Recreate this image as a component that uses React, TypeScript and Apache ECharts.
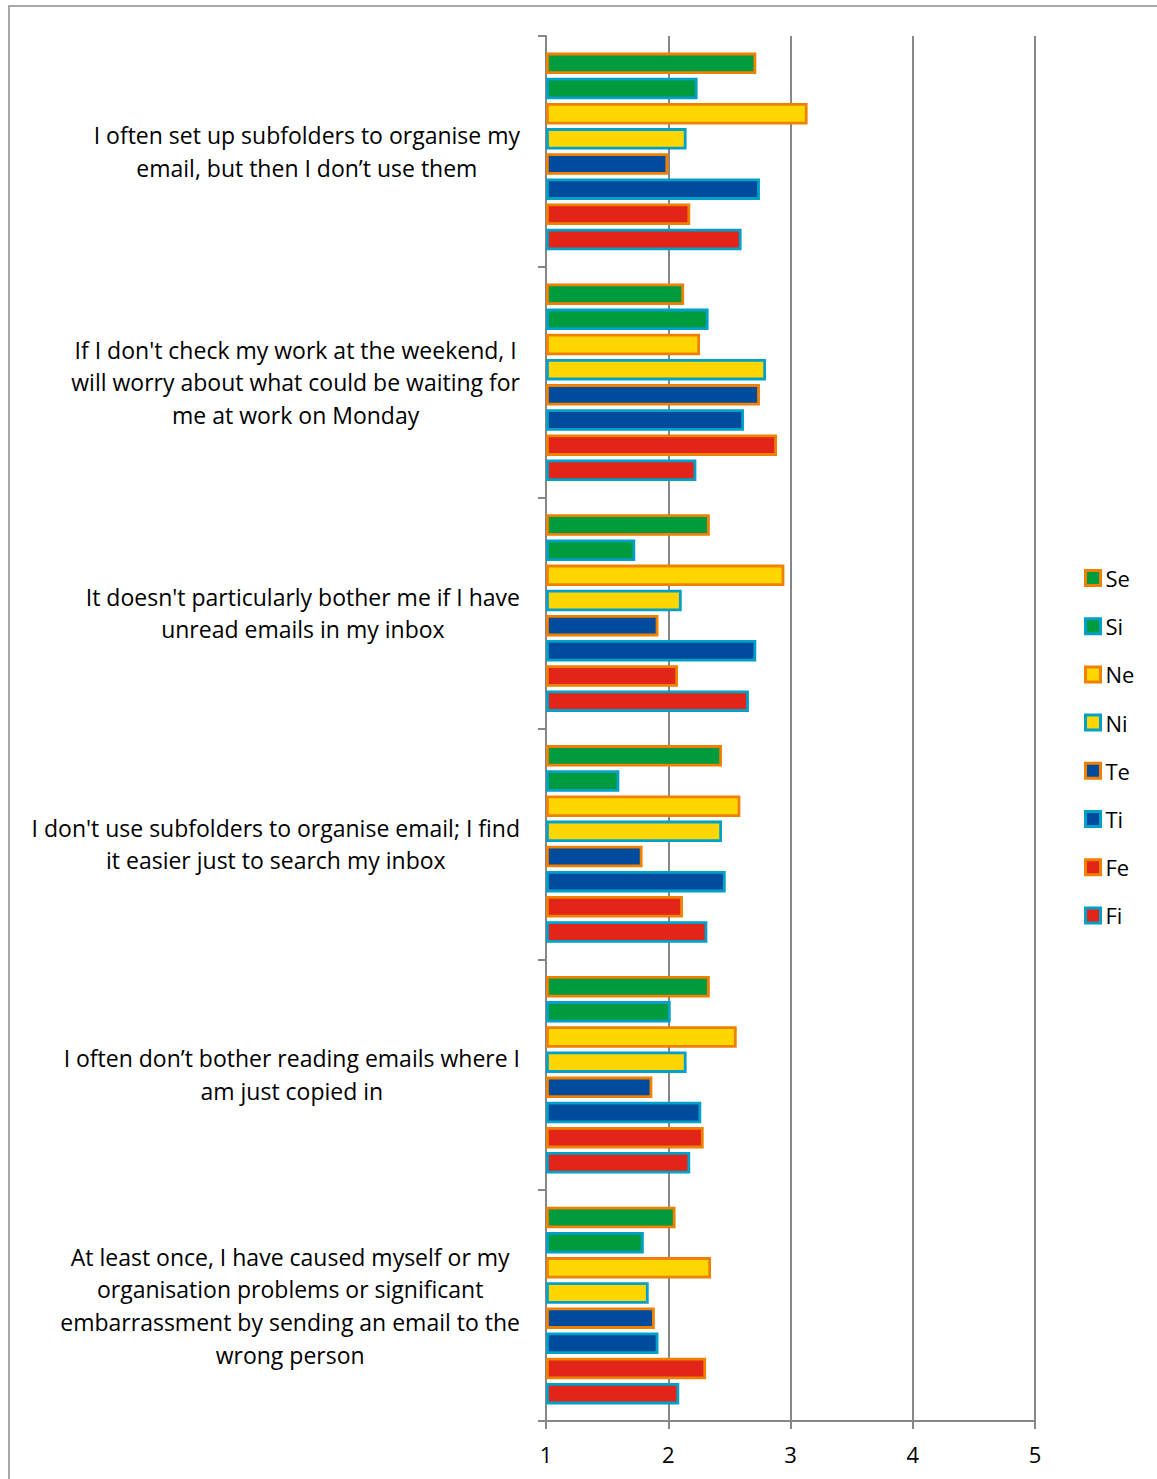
import React, { useEffect, useRef } from "react";
import * as echarts from "echarts";

const categories = [
  "I often set up subfolders to organise my\nemail, but then I don’t use them",
  "If I don't check my work at the weekend, I\nwill worry about what could be waiting for\nme at work on Monday",
  "It doesn't particularly bother me if I have\nunread emails in my inbox",
  "I don't use subfolders to organise email; I find\nit easier just to search my inbox",
  "I often don’t bother reading emails where I\nam just copied in",
  "At least once, I have caused myself or my\norganisation problems or significant\nembarrassment by sending an email to the\nwrong person",
];

const seriesNames = ["Se", "Si", "Ne", "Ni", "Te", "Ti", "Fe", "Fi"];

const seValues = [2.72, 2.13, 2.34, 2.44, 2.34, 2.06];
const siValues = [2.24, 2.33, 1.73, 1.6, 2.02, 1.8];
const neValues = [3.14, 2.26, 2.95, 2.59, 2.56, 2.35];
const niValues = [2.15, 2.8, 2.11, 2.44, 2.15, 1.84];
const teValues = [2.0, 2.75, 1.92, 1.79, 1.87, 1.89];
const tiValues = [2.75, 2.62, 2.72, 2.47, 2.27, 1.92];
const feValues = [2.18, 2.89, 2.08, 2.12, 2.29, 2.31];
const fiValues = [2.6, 2.23, 2.66, 2.32, 2.18, 2.09];

const seriesValues = [seValues, siValues, neValues, niValues, teValues, tiValues, feValues, fiValues];

const xMin = 1;
const xMax = 5;
const xStep = 1;

const GREEN = "#009B3E";
const YELLOW = "#FFD600";
const BLUE = "#004B9B";
const RED = "#E32418";
const ORANGE = "#F08000";
const CYAN = "#00A0C8";
const fills = [GREEN, GREEN, YELLOW, YELLOW, BLUE, BLUE, RED, RED];
const borders = [ORANGE, CYAN, ORANGE, CYAN, ORANGE, CYAN, ORANGE, CYAN];

const FONT = "Open Sans";
const AXIS_GRAY = "#878787";
const LABEL_SIZE = 23;

export default function App() {
  const ref = useRef<HTMLDivElement>(null);
  useEffect(() => {
    document.body.style.margin = "0";
    if (!ref.current) return;
    const chart = echarts.init(ref.current, null, { renderer: "svg" });
    const option: any = {
      animation: false,
      backgroundColor: "#ffffff",
      textStyle: { fontFamily: FONT },
      grid: { left: 546, right: 122, top: 36, bottom: 58, containLabel: false },
      graphic: [
        {
          type: "rect",
          shape: { x: 9, y: 6, width: 1300, height: 1600 },
          style: { fill: "none", stroke: "#8c8c8c", lineWidth: 1.5 },
          silent: true,
          z: 0,
        },
      ],
      legend: {
        orient: "vertical",
        left: 1084,
        top: 566,
        padding: 0,
        icon: "rect",
        itemWidth: 15,
        itemHeight: 15,
        itemGap: 24.2,
        itemStyle: { borderWidth: 3 },
        textStyle: { fontFamily: FONT, fontSize: 22, color: "#000", lineHeight: 24 },
        data: seriesNames,
      },
      xAxis: {
        type: "value",
        min: xMin,
        max: xMax,
        interval: xStep,
        startValue: xMin,
        axisLine: { show: true, lineStyle: { color: AXIS_GRAY, width: 2 } },
        axisTick: { show: true, length: 8, lineStyle: { color: AXIS_GRAY, width: 2 } },
        splitLine: { show: true, lineStyle: { color: AXIS_GRAY, width: 2 } },
        axisLabel: { color: "#000", fontSize: 22, fontFamily: FONT, margin: 22 },
      },
      yAxis: {
        type: "category",
        inverse: true,
        data: categories,
        axisLine: { show: true, onZero: false, lineStyle: { color: AXIS_GRAY, width: 2 } },
        axisTick: { show: true, length: 8, interval: 0, lineStyle: { color: AXIS_GRAY, width: 2 } },
        axisLabel: {
          interval: 0,
          align: "right",
          margin: 26,
          color: "#000",
          fontSize: LABEL_SIZE,
          fontFamily: FONT,
          lineHeight: 32.7,
          formatter: (v: string) =>
            v
              .split("\n")
              .map((l) => `{c|${l}}`)
              .join("\n"),
          rich: {
            c: { align: "center", fontSize: LABEL_SIZE, fontFamily: FONT, lineHeight: 32.7, color: "#000" },
          },
        },
      },
      series: seriesNames.map((name, i) => ({
        name,
        type: "bar",
        data: seriesValues[i],
        barWidth: 21.5,
        barGap: "17%",
        itemStyle: { color: fills[i], borderColor: borders[i], borderWidth: 2.8 },
      })),
    };
    chart.setOption(option);
    return () => chart.dispose();
  }, []);
  return <div ref={ref} style={{ width: 1157, height: 1479 }} />;
}
